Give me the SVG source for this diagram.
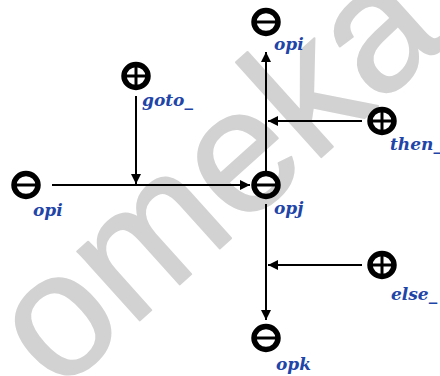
<svg xmlns="http://www.w3.org/2000/svg" width="440" height="376" viewBox="0 0 440 376">
  <style>
    .ring { fill: none; stroke: #000; stroke-width: 5.5; }
    .bar { stroke: #000; stroke-width: 3; }
    .edge { stroke: #000; stroke-width: 2; fill: none; }
    .lbl { font-family: "DejaVu Serif", "Liberation Serif", serif; font-style: italic; font-weight: bold; font-size: 17px; fill: #1f45a8; }
    .wm { font-family: "Liberation Sans", Arial, sans-serif; font-size: 176px; fill: #d2d2d2; stroke: #d2d2d2; stroke-width: 2; stroke-linejoin: round; }
  </style>
  <defs>
    <marker id="ah" viewBox="0 0 10 10" refX="10" refY="5" markerWidth="11" markerHeight="10" markerUnits="userSpaceOnUse" orient="auto">
      <path d="M0,0 L10,5 L0,10 z" fill="#000"/>
    </marker>
    <g id="minus">
      <ellipse cx="0" cy="0" rx="12" ry="11.5" class="ring"/>
      <line x1="-11" y1="0" x2="11" y2="0" class="bar"/>
    </g>
    <g id="plus">
      <ellipse cx="0" cy="0" rx="12" ry="11.5" class="ring"/>
      <line x1="-11" y1="0" x2="11" y2="0" class="bar"/>
      <line x1="0" y1="-10" x2="0" y2="10" class="bar"/>
    </g>
  </defs>
  <rect width="440" height="376" fill="#fff"/>

  <!-- background mark -->
  <text class="wm" x="0" y="0" transform="translate(58,394) rotate(-42)">omeka</text>

  <g id="connectors">
    <line x1="52" y1="185" x2="250" y2="185" class="edge" marker-end="url(#ah)"/>
    <line x1="136" y1="96" x2="136" y2="184" class="edge" marker-end="url(#ah)"/>
    <line x1="266" y1="172" x2="266" y2="52" class="edge" marker-end="url(#ah)"/>
    <line x1="362" y1="121" x2="268" y2="121" class="edge" marker-end="url(#ah)"/>
    <line x1="266" y1="204" x2="266" y2="320" class="edge" marker-end="url(#ah)"/>
    <line x1="362" y1="265" x2="268" y2="265" class="edge" marker-end="url(#ah)"/>
  </g>

  <g id="opi-left">
    <use href="#minus" x="26" y="185"/>
    <text class="lbl" x="33" y="216">opi</text>
  </g>
  <g id="goto">
    <use href="#plus" x="136" y="76"/>
    <text class="lbl" x="142" y="106">goto_</text>
  </g>
  <g id="opi-top">
    <use href="#minus" x="266" y="22"/>
    <text class="lbl" x="274" y="50">opi</text>
  </g>
  <g id="then">
    <use href="#plus" x="382" y="121"/>
    <text class="lbl" x="390" y="150">then_</text>
  </g>
  <g id="opj">
    <use href="#minus" x="266" y="185"/>
    <text class="lbl" x="274" y="214">opj</text>
  </g>
  <g id="else">
    <use href="#plus" x="382" y="265"/>
    <text class="lbl" x="391" y="300">else_</text>
  </g>
  <g id="opk">
    <use href="#minus" x="266" y="338"/>
    <text class="lbl" x="276" y="370">opk</text>
  </g>
</svg>
